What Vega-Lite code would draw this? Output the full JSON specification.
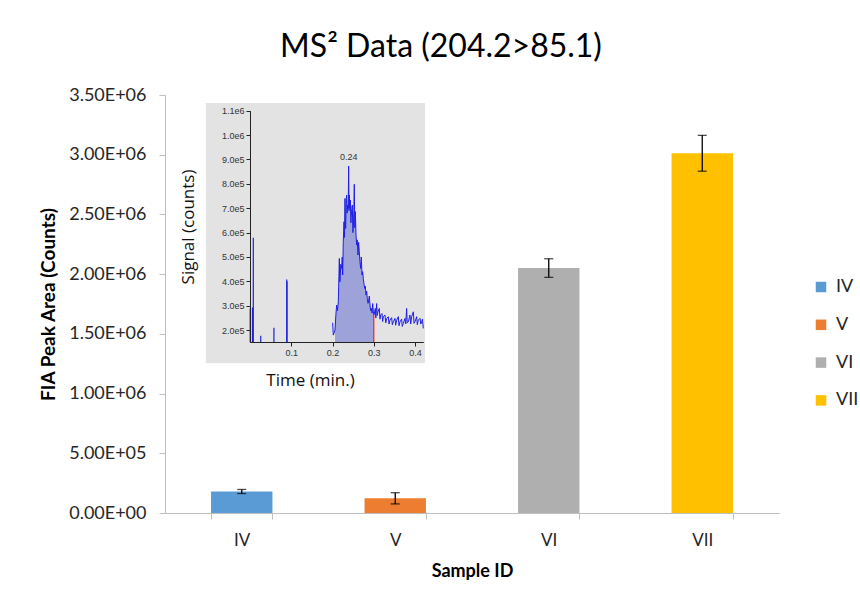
{
  "$schema": "https://vega.github.io/schema/vega-lite/v6.json",
  "width": 614,
  "height": 418,
  "autosize": "none",
  "padding": {"left": 165, "top": 95, "right": 81, "bottom": 90},
  "background": "white",
  "title": {
    "text": "MS² Data (204.2>85.1)",
    "font": "Lato",
    "fontSize": 32,
    "fontWeight": "normal",
    "color": "#000000",
    "anchor": "middle",
    "dx": -31,
    "offset": 22
  },
  "config": {
    "view": {"stroke": null},
    "axis": {"grid": false, "labelFont": "Lato", "titleFont": "Lato"},
    "legend": {"labelFont": "Lato"}
  },
  "datasets": {
    "bars": [
      {"sample": "IV", "area": 180000, "lo": 163000, "hi": 197000},
      {"sample": "V", "area": 123000, "lo": 76000, "hi": 170000},
      {"sample": "VI", "area": 2051000, "lo": 1973000, "hi": 2129000},
      {"sample": "VII", "area": 3012000, "lo": 2862000, "hi": 3162000}
    ],
    "trace": [
      {"t": 0.2003, "v": 230000}, {"t": 0.2019, "v": 179500}, {"t": 0.206, "v": 200000},
      {"t": 0.208, "v": 260000}, {"t": 0.21, "v": 302600}, {"t": 0.212, "v": 280000},
      {"t": 0.214, "v": 316000}, {"t": 0.2155, "v": 420000}, {"t": 0.2165, "v": 494000},
      {"t": 0.2175, "v": 400000}, {"t": 0.2181, "v": 398000}, {"t": 0.22, "v": 470000},
      {"t": 0.2221, "v": 453000}, {"t": 0.2235, "v": 500000}, {"t": 0.2246, "v": 426000},
      {"t": 0.226, "v": 560000}, {"t": 0.2278, "v": 644500}, {"t": 0.229, "v": 580000},
      {"t": 0.2302, "v": 740000}, {"t": 0.231, "v": 650000}, {"t": 0.2318, "v": 617000},
      {"t": 0.233, "v": 720000}, {"t": 0.2342, "v": 754000}, {"t": 0.2355, "v": 680000},
      {"t": 0.2367, "v": 713000}, {"t": 0.238, "v": 700000}, {"t": 0.2391, "v": 873000},
      {"t": 0.24, "v": 690000}, {"t": 0.2407, "v": 754000}, {"t": 0.242, "v": 700000},
      {"t": 0.2431, "v": 733000}, {"t": 0.2445, "v": 640000}, {"t": 0.2456, "v": 672000},
      {"t": 0.2468, "v": 700000}, {"t": 0.248, "v": 713000}, {"t": 0.2492, "v": 600000},
      {"t": 0.2504, "v": 617000}, {"t": 0.2516, "v": 690000}, {"t": 0.2528, "v": 798000},
      {"t": 0.254, "v": 620000}, {"t": 0.2553, "v": 686000}, {"t": 0.257, "v": 590000},
      {"t": 0.2585, "v": 549000}, {"t": 0.26, "v": 570000}, {"t": 0.2617, "v": 508000},
      {"t": 0.2633, "v": 560000}, {"t": 0.2649, "v": 521000}, {"t": 0.2665, "v": 480000},
      {"t": 0.2682, "v": 453000}, {"t": 0.2698, "v": 500000}, {"t": 0.2714, "v": 426000},
      {"t": 0.273, "v": 440000}, {"t": 0.2746, "v": 412000}, {"t": 0.2762, "v": 390000},
      {"t": 0.2779, "v": 371000}, {"t": 0.2795, "v": 380000}, {"t": 0.2811, "v": 344000},
      {"t": 0.2827, "v": 360000}, {"t": 0.2843, "v": 330000}, {"t": 0.286, "v": 310000},
      {"t": 0.2876, "v": 323000}, {"t": 0.2892, "v": 340000}, {"t": 0.2908, "v": 303000},
      {"t": 0.2924, "v": 280000}, {"t": 0.294, "v": 289000}, {"t": 0.2957, "v": 270000},
      {"t": 0.2973, "v": 309000}, {"t": 0.2989, "v": 275000}, {"t": 0.3005, "v": 262000},
      {"t": 0.3037, "v": 289000}, {"t": 0.305, "v": 250000}, {"t": 0.3069, "v": 309000},
      {"t": 0.3085, "v": 260000}, {"t": 0.3102, "v": 275000}, {"t": 0.3134, "v": 289000},
      {"t": 0.315, "v": 245000}, {"t": 0.3166, "v": 262000}, {"t": 0.3199, "v": 268000},
      {"t": 0.3215, "v": 235000}, {"t": 0.3231, "v": 255000}, {"t": 0.3271, "v": 262000},
      {"t": 0.329, "v": 230000}, {"t": 0.3312, "v": 248000}, {"t": 0.3352, "v": 255000},
      {"t": 0.337, "v": 225000}, {"t": 0.3393, "v": 241000}, {"t": 0.3433, "v": 251000},
      {"t": 0.345, "v": 222000}, {"t": 0.3473, "v": 234000}, {"t": 0.3514, "v": 248000},
      {"t": 0.353, "v": 220000}, {"t": 0.3554, "v": 241000}, {"t": 0.3595, "v": 255000},
      {"t": 0.3612, "v": 218000}, {"t": 0.3635, "v": 234000}, {"t": 0.3675, "v": 245000},
      {"t": 0.369, "v": 215000}, {"t": 0.3716, "v": 227000}, {"t": 0.3756, "v": 248000},
      {"t": 0.3775, "v": 225000}, {"t": 0.3796, "v": 289000}, {"t": 0.381, "v": 230000},
      {"t": 0.3837, "v": 234000}, {"t": 0.3877, "v": 262000}, {"t": 0.3895, "v": 225000},
      {"t": 0.3918, "v": 255000}, {"t": 0.3958, "v": 275000}, {"t": 0.3975, "v": 228000},
      {"t": 0.3998, "v": 234000}, {"t": 0.4039, "v": 255000}, {"t": 0.4055, "v": 222000},
      {"t": 0.4079, "v": 241000}, {"t": 0.412, "v": 248000}, {"t": 0.414, "v": 225000},
      {"t": 0.416, "v": 234000}, {"t": 0.418, "v": 245000}, {"t": 0.42, "v": 207000}
    ],
    "spikes": [
      {"t": 0.0005, "v": 289000}, {"t": 0.006, "v": 293000}, {"t": 0.008, "v": 579000},
      {"t": 0.026, "v": 177000}, {"t": 0.058, "v": 210000}, {"t": 0.089, "v": 408000},
      {"t": 0.0897, "v": 400000}
    ],
    "marker": [{"t": 0.3, "v": 262000}],
    "peak": [{"t": 0.2391, "v": 873000, "label": "0.24"}]
  },
  "layer": [
    {
      "data": {"name": "bars"},
      "encoding": {
        "x": {
          "field": "sample",
          "type": "nominal",
          "sort": ["IV", "V", "VI", "VII"],
          "scale": {"paddingInner": 0.6, "paddingOuter": 0.3},
          "axis": {
            "title": "Sample ID",
            "labelAngle": 0,
            "labelFontSize": 17,
            "labelColor": "#262626",
            "labelPadding": 13,
            "tickBand": "extent",
            "tickSize": 6,
            "tickColor": "#bfbfbf",
            "domainColor": "#bfbfbf",
            "titleFontSize": 18,
            "titleFontWeight": "bold",
            "titleColor": "#000000",
            "titlePadding": 14
          }
        }
      },
      "layer": [
        {
          "mark": {"type": "bar"},
          "encoding": {
            "y": {
              "field": "area",
              "type": "quantitative",
              "scale": {"domain": [0, 3500000], "nice": false},
              "axis": {
                "title": "FIA Peak Area (Counts)",
                "values": [0, 500000, 1000000, 1500000, 2000000, 2500000, 3000000, 3500000],
                "labelExpr": "datum.value == 0 ? '0.00E+00' : (datum.value < 1000000 ? format(datum.value / 100000, '.2f') + 'E+05' : format(datum.value / 1000000, '.2f') + 'E+06')",
                "labelFontSize": 18,
                "labelColor": "#262626",
                "labelPadding": 13,
                "tickSize": 6,
                "tickColor": "#bfbfbf",
                "domainColor": "#bfbfbf",
                "titleFontSize": 19,
                "titleFontWeight": "bold",
                "titleColor": "#000000",
                "titlePadding": 10
              }
            },
            "color": {
              "field": "sample",
              "type": "nominal",
              "sort": ["IV", "V", "VI", "VII"],
              "scale": {"domain": ["IV", "V", "VI", "VII"], "range": ["#5b9bd5", "#ed7d31", "#afafaf", "#ffc000"]},
              "legend": {
                "title": null,
                "orient": "none",
                "legendX": 647,
                "legendY": 183,
                "symbolType": "square",
                "symbolSize": 110,
                "symbolStrokeWidth": 0,
                "labelFontSize": 18,
                "labelColor": "#262626",
                "rowPadding": 19.8,
                "labelOffset": 6
              }
            }
          }
        },
        {
          "mark": {"type": "rule", "color": "#000000", "strokeWidth": 1.3},
          "encoding": {"y": {"field": "lo", "type": "quantitative"}, "y2": {"field": "hi"}}
        },
        {
          "mark": {"type": "tick", "color": "#000000", "thickness": 1.3, "size": 9, "orient": "horizontal"},
          "encoding": {"y": {"field": "lo", "type": "quantitative"}}
        },
        {
          "mark": {"type": "tick", "color": "#000000", "thickness": 1.3, "size": 9, "orient": "horizontal"},
          "encoding": {"y": {"field": "hi", "type": "quantitative"}}
        }
      ]
    },
    {
      "encoding": {
        "x": {
          "type": "quantitative",
          "scale": {"domain": [0, 0.42], "range": [85, 258.3], "nice": false, "zero": false},
          "axis": {
            "orient": "bottom",
            "offset": -171,
            "values": [0.1, 0.2, 0.3, 0.4],
            "format": ".1f",
            "labelFont": "Liberation Sans",
            "labelFontSize": 9,
            "labelColor": "#333333",
            "labelPadding": 2,
            "tickSize": 4,
            "tickColor": "#222222",
            "domainColor": "#222222",
            "title": "Time (min.)",
            "titleFont": "Open Sans",
            "titleFontSize": 17,
            "titleFontWeight": "normal",
            "titleColor": "#111111",
            "titleX": 145,
            "titleY": 38,
            "titleAlign": "center",
            "titleBaseline": "middle",
            "zindex": 1
          }
        },
        "y": {
          "type": "quantitative",
          "scale": {"domain": [150000, 1100000], "range": [247.3, 15.7], "nice": false, "zero": false},
          "axis": {
            "orient": "left",
            "offset": -85,
            "values": [200000, 300000, 400000, 500000, 600000, 700000, 800000, 900000, 1000000, 1100000],
            "labelExpr": "replace(format(datum.value, '.1e'), '+', '')",
            "labelFont": "Liberation Sans",
            "labelFontSize": 9,
            "labelColor": "#333333",
            "labelPadding": 2,
            "tickSize": 4,
            "tickColor": "#222222",
            "domainColor": "#222222",
            "title": "Signal (counts)",
            "titleFont": "Open Sans",
            "titleFontSize": 17,
            "titleFontWeight": "normal",
            "titleColor": "#111111",
            "titlePadding": 24,
            "zindex": 1
          }
        }
      },
      "layer": [
        {
          "data": {"name": "marker"},
          "mark": {"type": "rect", "color": "#e3e3e3"},
          "encoding": {
            "x": {"datum": -0.107},
            "x2": {"datum": 0.424},
            "y": {"datum": 63700},
            "y2": {"datum": 1131600}
          }
        },
        {
          "data": {"name": "trace"},
          "transform": [{"filter": "datum.t >= 0.205 && datum.t <= 0.3005"}],
          "mark": {"type": "area", "color": "#9096d6", "opacity": 0.85},
          "encoding": {
            "x": {"field": "t"},
            "y": {"field": "v"},
            "y2": {"datum": 150000}
          }
        },
        {
          "data": {"name": "trace"},
          "mark": {"type": "line", "color": "#1f1fe6", "strokeWidth": 1},
          "encoding": {
            "x": {"field": "t"},
            "y": {"field": "v"}
          }
        },
        {
          "data": {"name": "spikes"},
          "mark": {"type": "rule", "color": "#1f1fe6", "strokeWidth": 1.2},
          "encoding": {
            "x": {"field": "t"},
            "y": {"field": "v"},
            "y2": {"datum": 150000}
          }
        },
        {
          "data": {"name": "marker"},
          "mark": {"type": "rule", "color": "#ff2020", "strokeWidth": 1.2},
          "encoding": {
            "x": {"field": "t"},
            "y": {"field": "v"},
            "y2": {"datum": 150000}
          }
        },
        {
          "data": {"name": "peak"},
          "mark": {"type": "text", "font": "Liberation Sans", "fontSize": 9, "color": "#333333", "dy": -9},
          "encoding": {
            "x": {"field": "t"},
            "y": {"field": "v"},
            "text": {"field": "label"}
          }
        }
      ]
    }
  ],
  "resolve": {"scale": {"x": "independent", "y": "independent"}, "axis": {"x": "independent", "y": "independent"}}
}
